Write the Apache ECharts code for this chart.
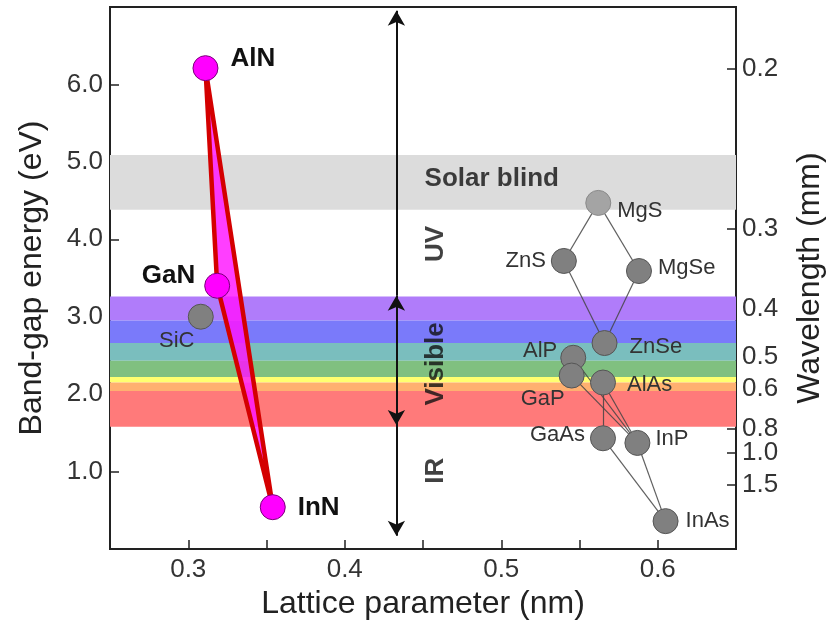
<!DOCTYPE html>
<html>
<head>
<meta charset="utf-8">
<script src="https://cdn.jsdelivr.net/npm/echarts@6/dist/echarts.min.js"></script>
<style>html,body{margin:0;padding:0;background:#fff}#chart{width:834px;height:626px}</style>
</head>
<body>
<div id="chart"></div>
<script>
// ---------- data ----------
const nitrideNames   = ['AlN', 'GaN', 'InN'];
const nitrideLattice = [0.311, 0.3185, 0.354];
const nitrideGap     = [6.21, 3.40, 0.54];

const sicNames   = ['SiC'];
const sicLattice = [0.308];
const sicGap     = [3.0];

const otherNames   = ['MgS', 'ZnS', 'MgSe', 'ZnSe', 'AlP', 'GaP', 'AlAs', 'GaAs', 'InP', 'InAs'];
const otherLattice = [0.562, 0.540, 0.588, 0.566, 0.546, 0.545, 0.565, 0.565, 0.587, 0.605];
const otherGap     = [4.47, 3.72, 3.59, 2.66, 2.47, 2.24, 2.15, 1.43, 1.37, 0.36];

const connections = [
  ['MgS', 'ZnS'], ['MgS', 'MgSe'], ['ZnS', 'ZnSe'], ['MgSe', 'ZnSe'],
  ['AlP', 'InP'], ['GaP', 'InP'], ['AlAs', 'InP'], ['AlAs', 'GaAs'],
  ['GaAs', 'InAs'], ['InP', 'InAs']
];

// spectral bands (eV)
const bandNames = ['Solar blind', 'violet', 'blue', 'cyan', 'green', 'yellow', 'orange', 'red'];
const bandLow   = [4.38, 2.95, 2.66, 2.43, 2.22, 2.15, 2.04, 1.58];
const bandHigh  = [5.09, 3.26, 2.95, 2.66, 2.43, 2.22, 2.15, 2.04];

// wavelength tick labels (right axis), energy = 1.24 / wavelength
const wavelengthTicks = ['0.2', '0.3', '0.4', '0.5', '0.6', '0.8', '1.0', '1.5'];

// region annotations: [text, lattice, energy]
const regionText    = ['Solar blind', 'UV', 'Visible', 'IR'];
const regionLattice = [0.451, 0.458, 0.458, 0.458];
const regionGap     = [4.78, 3.94, 2.39, 1.01];

// region arrows at lattice 0.433: [from, to]
const arrowLattice = 0.433;
const arrowFrom = [3.27, 3.27, 1.60];
const arrowTo   = [6.95, 1.60, 0.17];

// ---------- build ----------
const FONT = '"Liberation Sans", Arial, sans-serif';
const bandColors = ['#dcdcdc', '#b07cfa', '#7a7afa', '#7abebe', '#80c080', '#ffff70', '#ffb070', '#ff7a7a'];

const labelCfg = {
  AlN:  {position: 'right', distance: 12, offset: [0, -9]},
  GaN:  {position: 'left',  distance: 9,  offset: [0, -10]},
  InN:  {position: 'right', distance: 12, offset: [0, 1]},
  SiC:  {position: 'bottom', distance: 0, offset: [-24, 0]},
  MgS:  {position: 'right', distance: 6,  offset: [0, 8]},
  ZnS:  {position: 'left',  distance: 5,  offset: [0, 0]},
  MgSe: {position: 'right', distance: 6,  offset: [0, -3]},
  ZnSe: {position: 'right', distance: 12, offset: [0, 4]},
  AlP:  {position: 'left',  distance: 3,  offset: [0, -7]},
  GaP:  {position: 'bottom', distance: 0, offset: [-29, -1]},
  AlAs: {position: 'right', distance: 11, offset: [0, 2]},
  GaAs: {position: 'left',  distance: 5,  offset: [0, -3]},
  InP:  {position: 'right', distance: 5,  offset: [0, -4]},
  InAs: {position: 'right', distance: 7,  offset: [0, 0]}
};

const nitrideData = nitrideNames.map((n, i) => ({
  name: n, value: [nitrideLattice[i], nitrideGap[i]],
  label: Object.assign({show: true, formatter: '{b}', color: '#111', fontSize: 26, fontWeight: 'bold', fontFamily: FONT}, labelCfg[n])
}));
const sicData = sicNames.map((n, i) => ({
  name: n, value: [sicLattice[i], sicGap[i]],
  label: Object.assign({show: true, formatter: '{b}', color: '#333', fontSize: 22, fontFamily: FONT}, labelCfg[n])
}));
const otherData = otherNames.map((n, i) => ({
  name: n, value: [otherLattice[i], otherGap[i]],
  itemStyle: n === 'MgS' ? {color: '#a4a4a4', borderColor: '#8a8a8a'} : undefined,
  label: Object.assign({show: true, formatter: '{b}', color: '#333', fontSize: 22, fontFamily: FONT}, labelCfg[n])
}));

const idx = n => otherNames.indexOf(n);
const linesData = connections.map(([a, b]) => ({
  coords: [[otherLattice[idx(a)], otherGap[idx(a)]], [otherLattice[idx(b)], otherGap[idx(b)]]]
}));

const bandAreas = bandNames.map((n, i) => [
  {yAxis: bandLow[i], itemStyle: {color: bandColors[i], opacity: 1}},
  {yAxis: bandHigh[i]}
]);

const arrowLines = arrowFrom.map((f, i) => {
  const both = i === 1;
  return [
    {coord: [arrowLattice, f], symbol: both ? 'arrow' : 'none'},
    {coord: [arrowLattice, arrowTo[i]], symbol: 'arrow'}
  ];
});

const regionData = regionText.map((t, i) => ({
  name: t, value: [regionLattice[i], regionGap[i]],
  label: {
    show: true, formatter: '{b}', fontSize: 26, fontWeight: 'bold', color: '#111', fontFamily: FONT,
    position: t === 'Solar blind' ? 'right' : 'inside',
    distance: 0,
    rotate: t === 'Solar blind' ? 0 : 90
  }
}));

const wlEnergies = wavelengthTicks.map(w => 1.24 / parseFloat(w));

const chart = echarts.init(document.getElementById('chart'), null, {renderer: 'canvas'});
chart.setOption({
  animation: false,
  backgroundColor: '#fff',
  grid: {left: 110, right: 96, top: 7, bottom: 77, show: true, borderColor: '#222', borderWidth: 2, backgroundColor: 'transparent'},
  xAxis: {
    type: 'value', min: 0.25, max: 0.65, interval: 0.05,
    name: 'Lattice parameter (nm)', nameLocation: 'middle', nameGap: 38,
    nameTextStyle: {fontSize: 32, color: '#222', fontFamily: FONT},
    axisLine: {show: true, onZero: false, lineStyle: {color: '#222', width: 2}},
    axisTick: {show: true, inside: true, length: 9, lineStyle: {color: '#222', width: 1.5}},
    axisLabel: {
      fontSize: 26, color: '#333', fontFamily: FONT, margin: 8, showMinLabel: true, showMaxLabel: true,
      formatter: v => Math.abs(v * 10 - Math.round(v * 10)) < 1e-6 ? v.toFixed(1) : ''
    },
    splitLine: {show: false}
  },
  yAxis: [{
    type: 'value', min: 0, max: 7, interval: 1, position: 'left',
    name: 'Band-gap energy (eV)', nameLocation: 'middle', nameGap: 62, nameRotate: 90,
    nameTextStyle: {fontSize: 32, color: '#222', fontFamily: FONT},
    axisLine: {show: true, lineStyle: {color: '#222', width: 2}},
    axisTick: {show: true, inside: true, length: 9, lineStyle: {color: '#222', width: 1.5}},
    axisLabel: {
      fontSize: 26, color: '#333', fontFamily: FONT, margin: 7,
      formatter: v => (v <= 0 || v >= 7) ? '' : v.toFixed(1)
    },
    splitLine: {show: false}
  }, {
    type: 'value', min: 0, max: 7, position: 'right',
    name: 'Wavelength (mm)', nameLocation: 'middle', nameGap: 58, nameRotate: 90,
    nameTextStyle: {fontSize: 32, color: '#222', fontFamily: FONT},
    axisLine: {show: true, lineStyle: {color: '#222', width: 2}},
    axisTick: {show: true, inside: true, length: 9, customValues: wlEnergies, lineStyle: {color: '#222', width: 1.5}},
    axisLabel: {
      fontSize: 26, color: '#333', fontFamily: FONT, margin: 6, customValues: wlEnergies,
      formatter: v => {
        for (let i = 0; i < wlEnergies.length; i++) if (Math.abs(wlEnergies[i] - v) < 1e-6) return wavelengthTicks[i];
        return '';
      }
    },
    splitLine: {show: false}
  }],
  series: [
    {
      type: 'scatter', name: 'bands', data: [], z: 1, silent: true,
      markArea: {silent: true, data: bandAreas, z: 1}
    },
    {
      type: 'lines', coordinateSystem: 'cartesian2d', data: linesData, z: 3, silent: true,
      lineStyle: {color: '#444', width: 1.2, opacity: 0.85}
    },
    {
      type: 'custom', z: 4, silent: true, data: [[0]],
      renderItem: (params, api) => {
        const pts = nitrideNames.map((n, i) => api.coord([nitrideLattice[i], nitrideGap[i]]));
        return {
          type: 'polygon',
          shape: {points: pts},
          style: {fill: 'rgba(255,20,255,0.82)', stroke: '#d40000', lineWidth: 4.5, lineJoin: 'round'}
        };
      }
    },
    {
      type: 'scatter', name: 'regions', data: regionData, symbolSize: 0, z: 5, silent: true,
      markLine: {
        silent: true, symbolSize: [13, 15], data: arrowLines, label: {show: false},
        lineStyle: {color: '#111', width: 2, type: 'solid'}, emphasis: {disabled: true}
      }
    },
    {
      type: 'scatter', name: 'others', data: otherData, symbol: 'circle', symbolSize: 25, z: 6,
      itemStyle: {color: '#808080', borderColor: '#555', borderWidth: 1, opacity: 1}
    },
    {
      type: 'scatter', name: 'SiC', data: sicData, symbol: 'circle', symbolSize: 25, z: 6,
      itemStyle: {color: '#808080', borderColor: '#555', borderWidth: 1, opacity: 1}
    },
    {
      type: 'scatter', name: 'nitrides', data: nitrideData, symbol: 'circle', symbolSize: 25, z: 7,
      itemStyle: {color: '#ff00ff', borderColor: '#7a007a', borderWidth: 1, opacity: 1}
    }
  ]
});
</script>
</body>
</html>
